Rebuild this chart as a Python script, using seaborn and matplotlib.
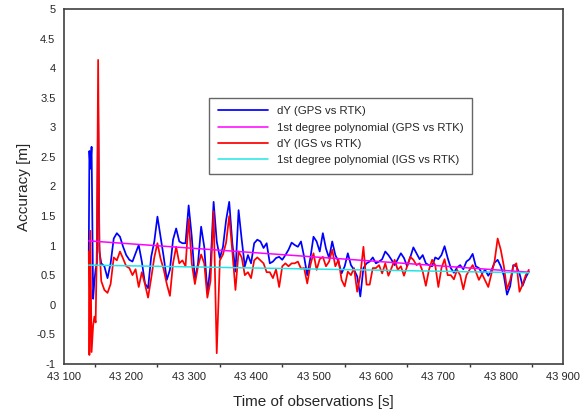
import matplotlib
matplotlib.use("Agg")
import matplotlib.pyplot as plt
import matplotlib.ticker as mticker
import seaborn as sns
import numpy as np

sns.set_style("white")
plt.rcParams['font.family'] = ['Liberation Sans', 'DejaVu Sans']

# ---------------------------------------------------------------------------
# data
# ---------------------------------------------------------------------------
times_start = [43140, 43141, 43142.5, 43144.5, 43147, 43149, 43151, 43153, 43155, 43157]
times_grid = list(range(43160, 43850, 5))
times = times_start + times_grid

gps_dy = [
    # 43140 - 43157
    0.90, 2.60, 2.30, 2.67, 0.10, 0.40, 0.60, 0.70, 3.40, 0.90,
    # 43160 - 43460
    0.70, 0.65, 0.45, 0.70, 1.12, 1.21, 1.15, 0.98, 0.84, 0.76,
    0.73, 0.87, 1.01, 0.73, 0.36, 0.28, 0.81, 1.07, 1.49, 1.15,
    0.81, 0.42, 0.59, 1.10, 1.29, 1.07, 1.04, 1.04, 1.68, 1.15,
    0.42, 0.70, 1.32, 0.98, 0.20, 0.65, 1.74, 1.07, 0.79, 0.98,
    1.43, 1.74, 1.04, 0.56, 1.60, 1.10, 0.65, 0.84, 0.70, 1.04,
    1.10, 1.07, 0.96, 1.04, 0.70, 0.73, 0.79, 0.81, 0.76, 0.84,
    0.93,
    # 43465 - 43845
    1.05, 1.01, 0.98, 1.07, 0.81, 0.50, 0.79, 1.15, 1.07, 0.90,
    1.21, 0.95, 0.79, 1.07, 0.84, 0.73, 0.53, 0.65, 0.87, 0.67,
    0.59, 0.48, 0.14, 0.62, 0.70, 0.73, 0.80, 0.70, 0.73, 0.77,
    0.90, 0.84, 0.76, 0.67, 0.77, 0.87, 0.79, 0.65, 0.80, 0.97,
    0.87, 0.77, 0.84, 0.70, 0.67, 0.65, 0.80, 0.77, 0.84, 0.99,
    0.79, 0.62, 0.54, 0.63, 0.67, 0.60, 0.73, 0.77, 0.86, 0.65,
    0.62, 0.53, 0.59, 0.49, 0.58, 0.71, 0.76, 0.65, 0.49, 0.17,
    0.31, 0.67, 0.65, 0.53, 0.32, 0.46, 0.56,
]

igs_dy = [
    # 43140 - 43157
    0.90, -0.85, 1.25, -0.80, -0.35, -0.20, -0.30, 1.00, 4.14, 1.00,
    # 43160 - 43460
    0.40, 0.25, 0.20, 0.35, 0.80, 0.75, 0.90, 0.78, 0.65, 0.62,
    0.50, 0.60, 0.30, 0.55, 0.35, 0.12, 0.45, 0.80, 1.04, 0.78,
    0.60, 0.35, 0.15, 0.70, 0.98, 0.70, 0.75, 0.65, 1.45, 0.70,
    0.35, 0.65, 0.85, 0.70, 0.12, 0.40, 1.58, -0.82, 0.75, 0.85,
    1.05, 1.50, 0.90, 0.25, 0.90, 0.80, 0.50, 0.55, 0.45, 0.75,
    0.80, 0.75, 0.70, 0.55, 0.55, 0.45, 0.60, 0.30, 0.65, 0.70,
    0.65,
    # 43465 - 43845
    0.70, 0.70, 0.73, 0.61, 0.62, 0.36, 0.67, 0.87, 0.59, 0.77,
    0.81, 0.65, 0.73, 0.93, 0.65, 0.76, 0.42, 0.31, 0.56, 0.50,
    0.62, 0.22, 0.50, 0.98, 0.34, 0.34, 0.62, 0.62, 0.67, 0.53,
    0.70, 0.49, 0.62, 0.76, 0.59, 0.65, 0.49, 0.65, 0.81, 0.76,
    0.67, 0.70, 0.56, 0.32, 0.59, 0.76, 0.67, 0.30, 0.62, 0.77,
    0.50, 0.50, 0.43, 0.59, 0.50, 0.26, 0.50, 0.59, 0.67, 0.56,
    0.42, 0.52, 0.41, 0.30, 0.52, 0.73, 1.12, 0.93, 0.65, 0.26,
    0.41, 0.65, 0.70, 0.22, 0.34, 0.50, 0.59,
]

# first degree polynomial fits (end points)
fit_times = [43140, 43845]
gps_fit = [1.08, 0.55]
igs_fit = [0.67, 0.54]

# ---------------------------------------------------------------------------
# plot
# ---------------------------------------------------------------------------
fig = plt.figure(figsize=(5.8, 4.13), dpi=100)
ax = fig.add_axes([0.110, 0.119, 0.861, 0.859])

sns.lineplot(x=times, y=gps_dy, ax=ax, color='#0000ff', linewidth=1.25,
             label='dY (GPS vs RTK)', zorder=2)
sns.lineplot(x=fit_times, y=gps_fit, ax=ax, color='#ff00ff', linewidth=1.1,
             label='1st degree polynomial (GPS vs RTK)', zorder=4)
sns.lineplot(x=times, y=igs_dy, ax=ax, color='#ff0000', linewidth=1.25,
             label='dY (IGS vs RTK)', zorder=3)
sns.lineplot(x=fit_times, y=igs_fit, ax=ax, color='#22e6e6', linewidth=1.1,
             label='1st degree polynomial (IGS vs RTK)', zorder=5)

ax.set_xlim(43100, 43900)
ax.set_ylim(-1, 5)
ax.xaxis.set_major_locator(mticker.MultipleLocator(100))
ax.xaxis.set_minor_locator(mticker.MultipleLocator(50))
ax.yaxis.set_major_locator(mticker.MultipleLocator(0.5))
ax.xaxis.set_major_formatter(
    mticker.FuncFormatter(lambda v, p: f"{int(round(v)):,}".replace(",", " ")))
ax.yaxis.set_major_formatter(mticker.FuncFormatter(lambda v, p: f"{v:g}"))

ax.tick_params(axis='both', which='major', direction='out', length=4, width=1,
               color='#333333', labelsize=8, pad=2)
ax.tick_params(axis='x', which='minor', direction='out', length=2.5, width=1,
               color='#333333', bottom=True)
ax.tick_params(top=False, right=False)

for side in ['left', 'right', 'top', 'bottom']:
    ax.spines[side].set_visible(True)
    ax.spines[side].set_color('#404040')
    ax.spines[side].set_linewidth(1.2)

ax.set_xlabel('Time of observations [s]', fontsize=11, labelpad=9)
ax.set_ylabel('Accuracy [m]', fontsize=11, labelpad=4)

leg = ax.legend(loc='upper left', bbox_to_anchor=(0.2908, 0.75), borderaxespad=0,
                fontsize=8.2, frameon=True, fancybox=False, handlelength=4.4,
                handletextpad=0.8, borderpad=0.75, labelspacing=0.55)
leg.get_frame().set_edgecolor('#404040')
leg.get_frame().set_linewidth(1.0)

fig.savefig('out.png', dpi=100)
